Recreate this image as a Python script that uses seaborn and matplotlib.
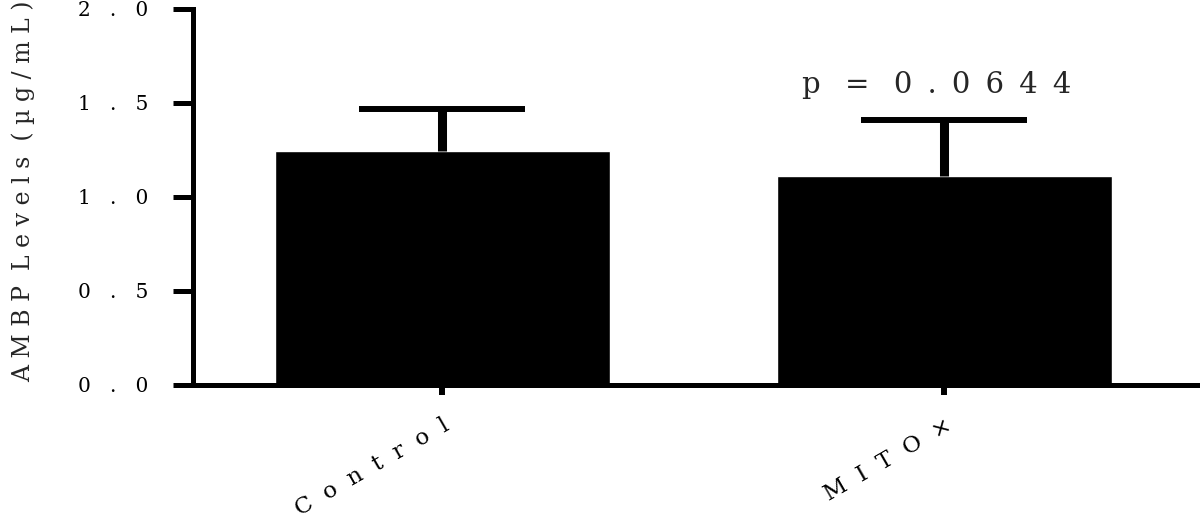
import matplotlib
matplotlib.use("Agg")
import matplotlib.pyplot as plt
import matplotlib.transforms as mtransforms
import seaborn as sns

# values
groups = ["Control", "MITO×"]
means = [1.245, 1.112]
sem = [0.223, 0.298]
y_ticks = [0.0, 0.5, 1.0, 1.5, 2.0]
p_label = "p = 0.0644"
y_label = "AMBP Levels (µg/mL)"


def spaced(s, gap=" "):
    # the reference uses very loose letter spacing
    words = s.split(" ")
    return (gap + " ").join(gap.join(w) for w in words)


sns.set_theme(style="ticks")
plt.rcParams["font.family"] = ["DejaVu Serif", "DejaVu Sans"]

fig = plt.figure(figsize=(12, 5.22), dpi=100)
ax = fig.add_axes([0.1608, 0.2625, 0.8392, 0.7203])

sns.barplot(x=groups, y=means, color="black", saturation=1, width=0.667,
            errorbar=None, ax=ax)
_, caps, _ = ax.errorbar(range(len(groups)), means, yerr=[[0] * len(sem), sem],
                         fmt="none", ecolor="black", elinewidth=6.5,
                         capsize=60, capthick=4.3)
caps[0].set_visible(False)  # only the upper half is shown

ax.set_xlim(-0.497, 1.509)
ax.set_ylim(0, 2.0)
ax.set_yticks(y_ticks)
ax.set_yticklabels([spaced(f"{t:.1f}", "   ") for t in y_ticks], fontsize=14.5)
ax.set_xticks(range(len(groups)))
ax.set_xticklabels([spaced(g, "  ") for g in groups], fontsize=16.5, rotation=30,
                   ha="right", va="top", rotation_mode="anchor")
shift = mtransforms.ScaledTranslation(16 / 100, 0, fig.dpi_scale_trans)
for lab in ax.get_xticklabels():
    lab.set_transform(lab.get_transform() + shift)

sns.despine(ax=ax)
for side in ["left", "bottom"]:
    ax.spines[side].set_linewidth(3.6)
    ax.spines[side].set_color("black")
ax.tick_params(axis="y", length=14.4, width=3.6, pad=18, colors="black")
ax.tick_params(axis="x", length=7, width=4.3, pad=14, colors="black")

ax.set_ylabel(spaced(y_label), fontsize=17, va="center")
ax.yaxis.set_label_coords(-0.168, 0.515)
ax.text(0.985, 1.553, spaced(p_label, " \u2009"), ha="center", va="baseline",
        fontsize=21)

fig.savefig("out.png", dpi=100)
plt.close(fig)
